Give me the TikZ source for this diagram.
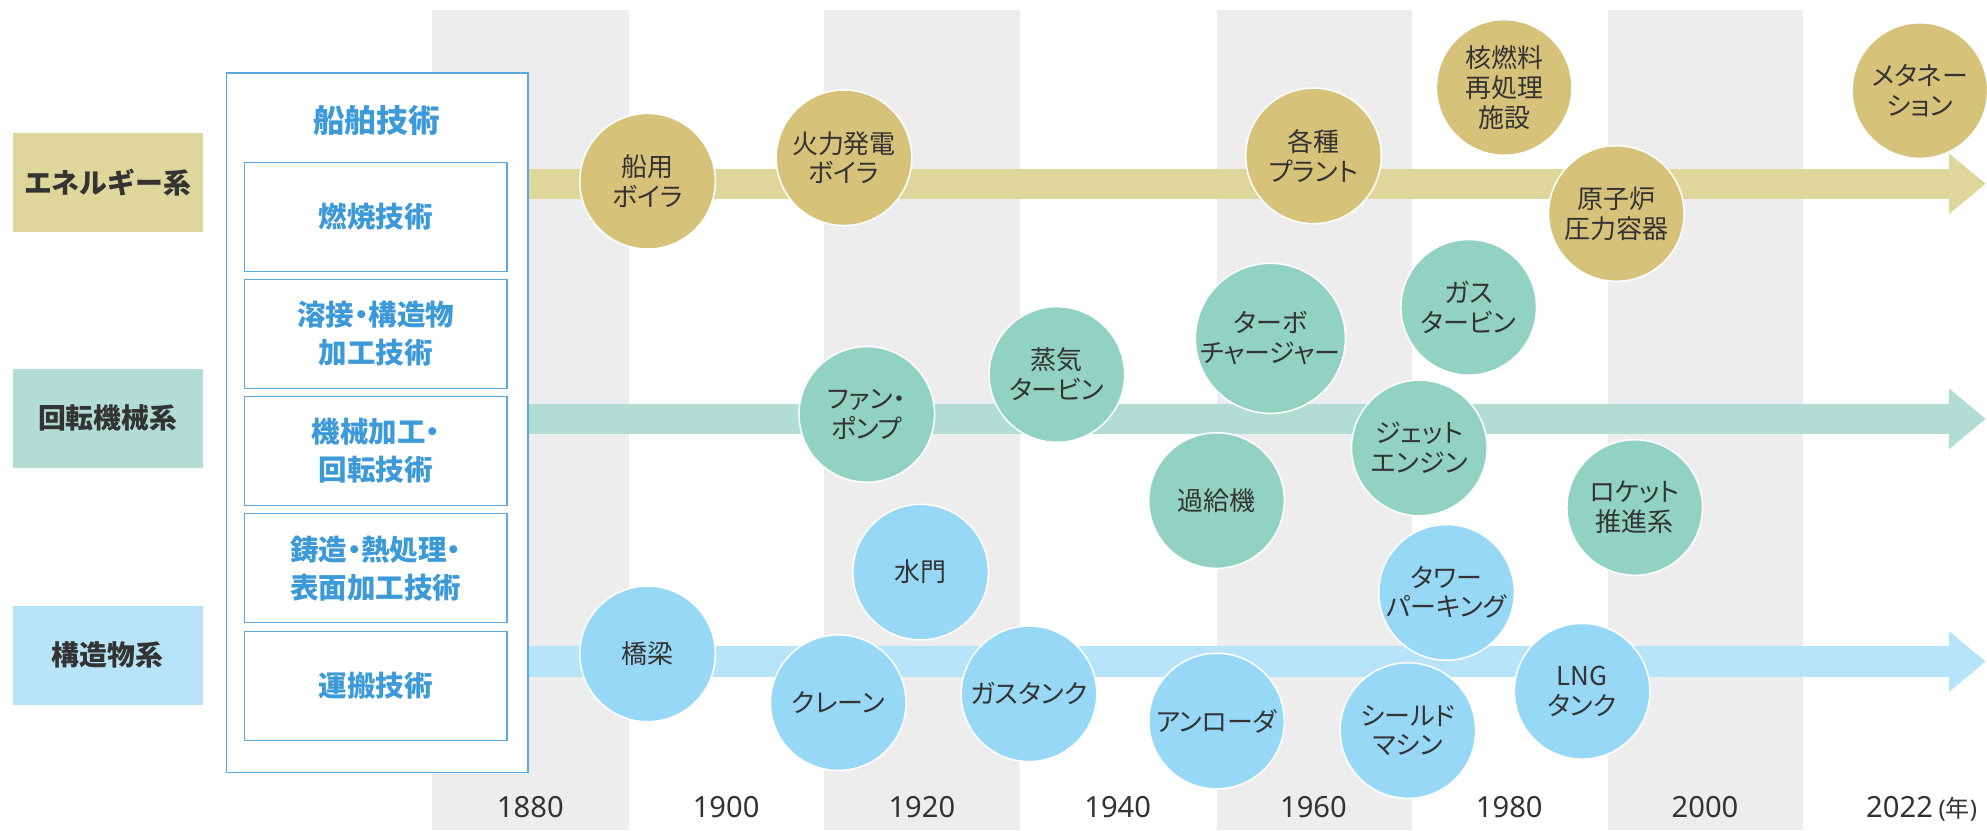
\documentclass[tikz,border=0pt]{standalone}
\usepackage{fontspec}
\usetikzlibrary{arrows.meta}
\setmainfont{Noto Sans}
\newfontfamily\jp{Noto Sans CJK JP}[RawFeature=+palt]
\newfontfamily\jpw{Noto Sans CJK JP}
\newfontfamily\yrfont{Noto Sans}
\definecolor{colgrey}{HTML}{EDEDED}
\definecolor{eband}{HTML}{DED69B}
\definecolor{ecirc}{HTML}{D7C27A}
\definecolor{rband}{HTML}{B2DDD2}
\definecolor{rcirc}{HTML}{92D2C0}
\definecolor{sband}{HTML}{B7E4F8}
\definecolor{scirc}{HTML}{96D8F6}
\definecolor{boxblue}{HTML}{5AAAE0}
\definecolor{bluetext}{HTML}{3D9AD8}
\definecolor{txt}{HTML}{333333}
\tikzset{
  greycol/.style={fill=colgrey},
  bandarrow/.style={line width=24pt, -{Triangle[length=29pt,width=46pt]}},
  circ/.style={circle, minimum size=107pt, inner sep=0pt, draw=white, line width=1.2pt,
    align=center, text=txt, font={\jp\fontsize{20.5}{23.5}\selectfont}},
  ecircle/.style={circ, fill=ecirc},
  rcircle/.style={circ, fill=rcirc},
  scircle/.style={circ, fill=scirc},
  catbox/.style={minimum width=150pt, minimum height=78pt, inner sep=0pt, text=txt,
    font={\jpw\bfseries\fontsize{22}{26}\selectfont}},
  inbox/.style={draw=boxblue, line width=1pt, fill=white, minimum width=207pt, minimum height=86pt,
    inner sep=0pt, align=center, text=bluetext, font={\jp\bfseries\fontsize{22.5}{30}\selectfont}},
  yearlbl/.style={text=txt, font={\yrfont\fontsize{23}{27}\selectfont}, inner sep=0pt}
}
\begin{document}
\begin{tikzpicture}[x=1pt,y=-1pt]
\useasboundingbox (0,0) rectangle (1568,655);
% grey columns
\fill[greycol] (341,8) rectangle (496,655);
\fill[greycol] (650.5,8) rectangle (805,655);
\fill[greycol] (960,8) rectangle (1114,655);
\fill[greycol] (1269,8) rectangle (1423,655);
% outer box
\node[draw=boxblue, fill=white, line width=1.3pt, minimum width=238pt, minimum height=552pt,
  inner sep=0pt, anchor=north west] (outer) at (178,57) {};
% bands
\coordinate (eTip) at (1567,145);
\coordinate (rTip) at (1567,330.5);
\coordinate (sTip) at (1567,522);
\draw[bandarrow, eband] (outer.east |- eTip) -- (eTip);
\draw[bandarrow, rband] (outer.east |- rTip) -- (rTip);
\draw[bandarrow, sband] (outer.east |- sTip) -- (sTip);
% category labels
\node[catbox, fill=eband] (catE) at (85,144) {エネルギー系};
\node[catbox, fill=rband] (catR) at (85,330) {回転機械系};
\node[catbox, fill=sband] (catS) at (85,517) {構造物系};
% title and inner boxes
\node[text=bluetext, font={\jp\bfseries\fontsize{25}{30}\selectfont}] (title) at (297,95) {船舶技術};
\node[inbox] (b1) at (296.5,171) {燃焼技術};
\node[inbox] (b2) at (296.5,263.5) {溶接・構造物\\加工技術};
\node[inbox] (b3) at (296.5,356) {機械加工・\\回転技術};
\node[inbox] (b4) at (296.5,448.5) {鋳造・熱処理・\\表面加工技術};
\node[inbox] (b5) at (296.5,541.5) {運搬技術};
% energy circles
\node[ecircle] (e1) at (511,143) {船用\\ボイラ};
\node[ecircle] (e2) at (666,124.5) {火力発電\\ボイラ};
\node[ecircle] (e3) at (1036.5,123) {各種\\プラント};
\node[ecircle] (e4) at (1187,69) {核燃料\\再処理\\施設};
\node[ecircle] (e5) at (1275.5,168.5) {原子炉\\圧力容器};
\node[ecircle] (e6) at (1515,71.5) {メタネー\\ション};
% rotating machinery circles
\node[rcircle] (r1) at (684,327) {ファン・\\ポンプ};
\node[rcircle] (r2) at (834,295.5) {蒸気\\タービン};
\node[rcircle] (r3) at (1002.5,267) {ターボ\\チャージャー};
\node[rcircle] (r4) at (960,395) {過給機};
\node[rcircle] (r5) at (1159,242.5) {ガス\\タービン};
\node[rcircle] (r6) at (1120,353.5) {ジェット\\エンジン};
\node[rcircle] (r7) at (1290,400.5) {ロケット\\推進系};
% structure circles
\node[scircle] (s1) at (511,516) {橋梁};
\node[scircle] (s2) at (726.5,451.5) {水門};
\node[scircle] (s3) at (661.5,554.5) {クレーン};
\node[scircle] (s4) at (812,547.5) {ガスタンク};
\node[scircle] (s5) at (960,569) {アンローダ};
\node[scircle] (s7) at (1141.5,467.5) {タワー\\パーキング};
\node[scircle] (s6) at (1111,576.5) {シールド\\マシン};
\node[scircle] (s8) at (1248.5,545.5) {LNG\\タンク};
% years
\node[yearlbl] (y1880) at (418.5,637) {1880};
\node[yearlbl] (y1900) at (573,637) {1900};
\node[yearlbl] (y1920) at (727.5,637) {1920};
\node[yearlbl] (y1940) at (882,637) {1940};
\node[yearlbl] (y1960) at (1036.5,637) {1960};
\node[yearlbl] (y1980) at (1191,637) {1980};
\node[yearlbl] (y2000) at (1345.5,637) {2000};
\node[yearlbl] (y2022) at (1499,637) {2022};
\node[anchor=base west, inner sep=0pt, text=txt, font={\fontsize{19}{22}\selectfont}] (nen)
  at ([xshift=4pt]y2022.base east) {{\yrfont(}{\jpw 年}{\yrfont)}};
\end{tikzpicture}
\end{document}
